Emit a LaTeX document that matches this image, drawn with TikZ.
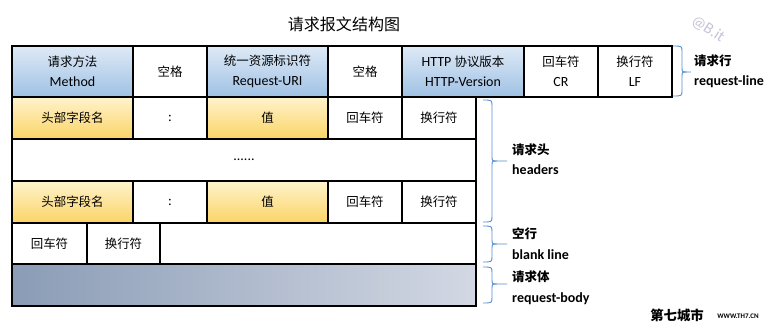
\documentclass[tikz,border=0pt]{standalone}
\usepackage{fontspec}
\setmainfont{Carlito}
\newfontfamily\cjk[Scale=0.89]{Noto Sans CJK SC}
\usetikzlibrary{positioning}
\definecolor{bluetop}{HTML}{DEEAF6}
\definecolor{bluebot}{HTML}{9FC1E4}
\definecolor{yeltop}{HTML}{FFF3CD}
\definecolor{yelbot}{HTML}{FBD466}
\definecolor{bodyleft}{HTML}{8A9CB6}
\definecolor{bodyright}{HTML}{D3D8E3}
\definecolor{bracecol}{HTML}{5B8FD0}
\definecolor{wmark}{HTML}{C9C2D8}
\newcommand\mycell[7]{%
  \node[cellbase,#6,minimum width={(#4-#2)*1pt},minimum height={(#5-#3)*1pt}]
    (#1) at ({(#2+#4)/2},{(#3+#5)/2}) {#7};}
\newcommand\mybrace[7]{% name, x0, x1, x2, yt, ym, yb
  \coordinate (#1t) at (#2,#5);
  \coordinate (#1m) at (#4,#6);
  \coordinate (#1b) at (#2,#7);
  \draw[bracestyle] (#1t) .. controls (#3,#5) .. (#3,{#5+6}) -- (#3,{#6-5})
     .. controls (#3,#6) .. ({#3+5},#6) -- (#1m);
  \draw[bracestyle] (#3,{#6+5}) .. controls (#3,#6) .. ({#3+5},#6);
  \draw[bracestyle] (#1b) .. controls (#3,#7) .. (#3,{#7-6}) -- (#3,{#6+5});}
\tikzset{
  cellbase/.style={draw=black,line width=1.9pt,inner sep=0pt,outer sep=0pt,
    align=center,font=\fontsize{14}{20}\selectfont},
  bluecell/.style={top color=bluetop,bottom color=bluebot},
  yelcell/.style={top color=yeltop,bottom color=yelbot},
  whitecell/.style={fill=white},
  bodycell/.style={left color=bodyleft,right color=bodyright},
  bracestyle/.style={draw=bracecol,line width=0.9pt},
  lbl/.style={anchor=west,inner sep=0pt,font=\fontsize{14}{16}\selectfont\bfseries},
}
\begin{document}
\begin{tikzpicture}[x=1pt,y=-1pt]
\useasboundingbox (0,0) rectangle (770,324);
\node[inner sep=0pt,font=\fontsize{18}{20}\selectfont] (title) at (344,24) {\cjk 请求报文结构图};
% request line
\mycell{r1}{12}{46}{133}{97}{bluecell}{{\cjk 请求方法}\\Method}
\mycell{r2}{133}{46}{207}{97}{whitecell}{\cjk 空格}
\mycell{r3}{207}{46}{328}{97}{bluecell}{{\cjk 统一资源标识符}\\Request-URI}
\mycell{r4}{328}{46}{402}{97}{whitecell}{\cjk 空格}
\mycell{r5}{402}{46}{524}{97}{bluecell}{HTTP {\cjk 协议版本}\\HTTP-Version}
\mycell{r6}{524}{46}{598}{97}{whitecell}{{\cjk 回车符}\\CR}
\mycell{r7}{598}{46}{672}{97}{whitecell}{{\cjk 换行符}\\LF}
% header 1
\mycell{h1}{12}{97}{133}{139}{yelcell}{\cjk 头部字段名}
\mycell{h2}{133}{97}{207}{139}{whitecell}{:}
\mycell{h3}{207}{97}{328}{139}{yelcell}{\cjk 值}
\mycell{h4}{328}{97}{402}{139}{whitecell}{\cjk 回车符}
\mycell{h5}{402}{97}{476}{139}{whitecell}{\cjk 换行符}
% dots
\mycell{dd}{12}{139}{476}{181}{whitecell}{......}
% header n
\mycell{n1}{12}{181}{133}{223}{yelcell}{\cjk 头部字段名}
\mycell{n2}{133}{181}{207}{223}{whitecell}{:}
\mycell{n3}{207}{181}{328}{223}{yelcell}{\cjk 值}
\mycell{n4}{328}{181}{402}{223}{whitecell}{\cjk 回车符}
\mycell{n5}{402}{181}{476}{223}{whitecell}{\cjk 换行符}
% blank line
\mycell{b1}{12}{223}{87}{264}{whitecell}{\cjk 回车符}
\mycell{b2}{87}{223}{160}{264}{whitecell}{\cjk 换行符}
\mycell{b3}{160}{223}{476}{264}{whitecell}{}
% body
\mycell{bd}{12}{264}{476}{306}{bodycell}{}
% braces
\mybrace{br1}{673}{682}{691}{46}{72}{96}
\mybrace{br2}{483}{492}{507}{100}{161}{222}
\mybrace{br3}{483}{492}{507}{226}{244}{262}
\mybrace{br4}{483}{492}{507}{267}{284}{303}
% labels
\node[lbl] (l1a) at (694,61) {\cjk 请求行};
\node[lbl] (l1b) at (694,82) {request-line};
\node[lbl] (l2a) at (512,150) {\cjk 请求头};
\node[lbl] (l2b) at (512,170) {headers};
\node[lbl] (l3a) at (512,234) {\cjk 空行};
\node[lbl] (l3b) at (512,255) {blank line};
\node[lbl] (l4a) at (512,277) {\cjk 请求体};
\node[lbl] (l4b) at (512,299) {request-body};
% watermarks
\node[inner sep=0pt,rotate=-33,text=wmark,font=\fontsize{16}{18}\selectfont] (wm1) at (708,29) {@B.it};
\node[inner sep=0pt,font=\fontsize{15}{16}\selectfont\bfseries] (wm2) at (677,315) {\cjk 第七城市};
\node[inner sep=0pt,font=\fontsize{7}{8}\selectfont\bfseries] (wm3) at (738,316) {WWW.TH7.CN};
\end{tikzpicture}
\end{document}
